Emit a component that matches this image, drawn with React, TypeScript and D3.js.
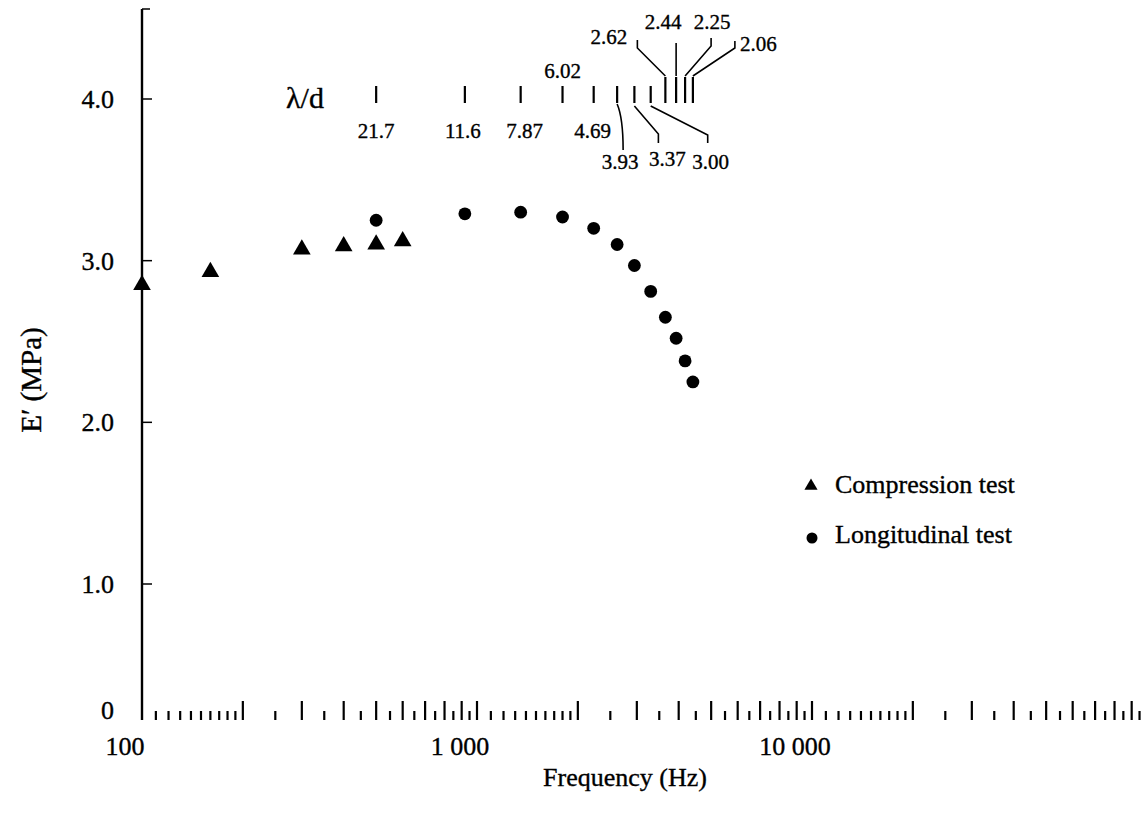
import React from "react";
import * as d3 from "d3";

// ---- data ----
const compressionFreq = [100, 160, 300, 400, 500, 600];
const compressionE = [2.85, 2.93, 3.07, 3.09, 3.1, 3.12];
const longitudinalFreq = [500, 920, 1350, 1800, 2230, 2620, 2950, 3300, 3650, 3930, 4180, 4410];
const longitudinalE = [3.25, 3.29, 3.3, 3.27, 3.2, 3.1, 2.97, 2.81, 2.65, 2.52, 2.38, 2.25];
const lambdaLabels = ["21.7", "11.6", "7.87", "6.02", "4.69", "3.93", "3.37", "3.00", "2.62", "2.44", "2.25", "2.06"];
const yTickValues = [0, 1, 2, 3, 4];
const yTickLabels = ["0", "1.0", "2.0", "3.0", "4.0"];
const xLabelValues = [100, 1000, 10000];
const xLabelTexts = ["100", "1 000", "10 000"];
const decades = [100, 1000, 10000];

const W = 1147;
const H = 818;
const FONT = "'Liberation Serif', 'Times New Roman', serif";

// annotation layout (label offsets relative to tick x)
type Ann = { dx: number; y: number; anchor: string; path?: (x: number) => string; tall?: boolean };
const annLayout: Ann[] = [
  { dx: 0, y: 138, anchor: "middle" },
  { dx: -2, y: 138, anchor: "middle" },
  { dx: 4, y: 138, anchor: "middle" },
  { dx: 0, y: 78, anchor: "middle" },
  { dx: -1, y: 138, anchor: "middle" },
  { dx: 3, y: 169, anchor: "middle", path: (x) => `M${x},104 Q${x + 6},118 ${x + 6},150` },
  { dx: 33, y: 166, anchor: "middle", path: (x) => `M${x},106 L${x + 24},134 L${x + 24},143` },
  { dx: 60, y: 169, anchor: "middle", path: (x) => `M${x},106 L${x + 57},135 L${x + 57},143` },
  { dx: -38, y: 44, anchor: "end", tall: true, path: (x) => `M${x},76 L${x - 28},48 L${x - 28},40` },
  { dx: -13, y: 29, anchor: "middle", tall: true, path: (x) => `M${x},76 L${x},43` },
  { dx: 27, y: 29, anchor: "middle", tall: true, path: (x) => `M${x},76 L${x + 26},46 L${x + 26},38` },
  { dx: 47, y: 51, anchor: "start", tall: true, path: (x) => `M${x},76 L${x + 42},48 L${x + 42},41` },
];

export default function App() {
  const x = d3.scaleLog().domain([100, 100000]).range([142, 1147]);
  const y = d3.scaleLinear().domain([0, 1, 4, 4.55]).range([710, 584, 99, 9]);
  const axisX = x(100);
  const baseY = 720;

  // bottom ruler ticks
  const ticks: { v: number; long: boolean }[] = [];
  decades.forEach((d) => {
    for (let i = 1; i <= 9; i++) ticks.push({ v: d * (1 + i / 10), long: false });
    for (let k = 2; k <= 10; k++) {
      ticks.push({ v: d * k, long: true });
      if (k < 10) ticks.push({ v: d * (k + 0.5), long: false });
    }
  });

  const tri = d3.symbol().type(d3.symbolTriangle).size(135)() as string;
  const triSmall = d3.symbol().type(d3.symbolTriangle).size(75)() as string;
  const textStyle = { stroke: "#000", strokeWidth: 0.35 };

  return (
    <svg width={W} height={H} style={{ position: "absolute", left: 0, top: 0, background: "#fff" }} fontFamily={FONT}>
      <g style={textStyle as any}>
        {yTickValues.map((v, i) => (
          <text key={"ytl" + i} x={114} y={y(v)} dy="0.35em" textAnchor="end" fontSize={26}>
            {yTickLabels[i]}
          </text>
        ))}
        <text transform={`translate(41,380) rotate(-90)`} textAnchor="middle" fontSize={29}>
          E′ (MPa)
        </text>
        {xLabelValues.map((v, i) => (
          <text key={"xl" + i} x={x(v) - 17} y={755} textAnchor="middle" fontSize={26}>
            {xLabelTexts[i]}
          </text>
        ))}
        <text x={625} y={786} textAnchor="middle" fontSize={26}>
          Frequency (Hz)
        </text>
        <text x={286} y={108} fontSize={30}>
          λ/d
        </text>
        {longitudinalFreq.map((f, i) => {
          const a = annLayout[i];
          return (
            <text key={"al" + i} x={x(f) + a.dx} y={a.y} textAnchor={a.anchor as any} fontSize={21}>
              {lambdaLabels[i]}
            </text>
          );
        })}
        <text x={835} y={493} fontSize={26}>
          Compression test
        </text>
        <text x={835} y={543} fontSize={26}>
          Longitudinal test
        </text>
      </g>

      {/* y axis */}
      <line x1={axisX} x2={axisX} y1={y(4.55)} y2={baseY} stroke="#000" strokeWidth={2.4} />
      <line x1={axisX} x2={axisX + 8} y1={y(4.55)} y2={y(4.55)} stroke="#000" strokeWidth={1.5} />
      {yTickValues
        .filter((v) => v > 0)
        .map((v, i) => (
          <line key={"yt" + i} x1={axisX} x2={axisX + 10} y1={y(v)} y2={y(v)} stroke="#000" strokeWidth={1.5} />
        ))}

      {/* x ruler ticks */}
      {ticks
        .filter((t) => x(t.v) <= W - 1)
        .map((t, i) => (
          <line key={"xt" + i} x1={x(t.v)} x2={x(t.v)} y1={t.long ? baseY - 19 : baseY - 9} y2={baseY} stroke="#000" strokeWidth={2.2} />
        ))}

      {/* lambda/d annotation marks */}
      {longitudinalFreq.map((f, i) => {
        const tx = x(f);
        const a = annLayout[i];
        return (
          <g key={"ann" + i}>
            <line x1={tx} x2={tx} y1={a.tall ? 77 : 86} y2={103} stroke="#000" strokeWidth={2.2} />
            {a.path && <path d={a.path(tx)} fill="none" stroke="#000" strokeWidth={1.6} />}
          </g>
        );
      })}

      {/* data */}
      {compressionFreq.map((f, i) => (
        <path key={"c" + i} d={tri} transform={`translate(${x(f)},${y(compressionE[i])})`} fill="#000" />
      ))}
      {longitudinalFreq.map((f, i) => (
        <circle key={"l" + i} cx={x(f)} cy={y(longitudinalE[i])} r={6.4} fill="#000" />
      ))}

      {/* legend markers */}
      <path d={triSmall} transform="translate(811,486)" fill="#000" />
      <circle cx={812} cy={538} r={5.5} fill="#000" />
    </svg>
  );
}
